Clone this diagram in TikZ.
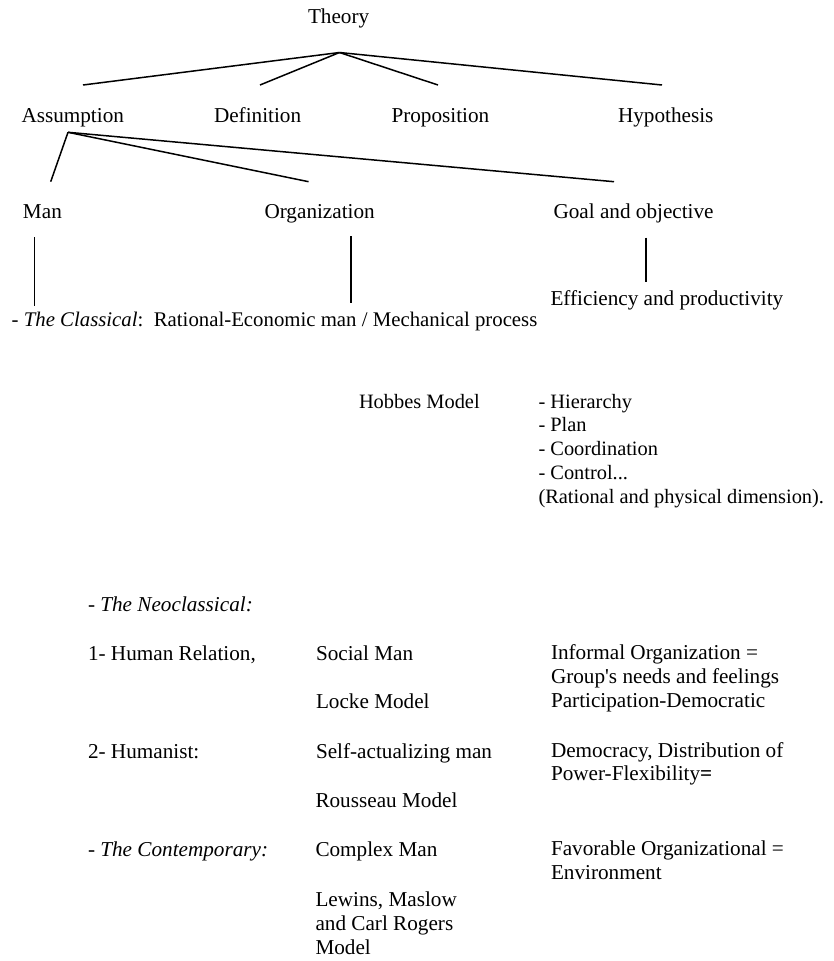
\documentclass[tikz,border=0pt]{standalone}
\usepackage{fontspec}
\setmainfont{Liberation Serif}
\begin{document}
\begin{tikzpicture}[x=1pt,y=-1pt,
  lbl/.style={anchor=base west,inner sep=0pt,outer sep=0pt,font=\fontsize{21.2}{23.8}\selectfont,align=left},
  lblsm/.style={lbl,font=\fontsize{20.4}{23.8}\selectfont},
  conn/.style={line width=1.5pt}]
\useasboundingbox (0,0) rectangle (833,961);
% level 0
\node[lbl] (theory) at (308,23.5) {Theory};
% level 1
\node[lbl] (assump) at (21.5,122.7) {Assumption};
\node[lbl] (defin) at (214,122.7) {Definition};
\node[lbl] (propos) at (391.5,122.7) {Proposition};
\node[lbl] (hypo) at (618,122.7) {Hypothesis};
% level 2
\node[lbl] (man) at (23,218.3) {Man};
\node[lbl] (org) at (264.5,218.3) {Organization};
\node[lbl] (goal) at (553.5,218.8) {Goal and objective};
% level 3
\node[lbl] (eff) at (550.5,305) {Efficiency and productivity};
\node[lbl,font=\fontsize{20.8}{23.8}\selectfont] (classical) at (11.7,326.7) {- \textit{The Classical}:\ \ Rational-Economic man / Mechanical process};
% Hobbes
\node[lblsm] (hobbes) at (359,408) {Hobbes Model};
% multi-line nodes are placed at the baseline of their last line
\node[lblsm] (hier) at (538.5,503.2) {- Hierarchy\\- Plan\\- Coordination\\- Control...\\(Rational and physical dimension).};
% Neoclassical
\node[lbl] (neo) at (88,611.7) {- \textit{The Neoclassical:}};
\node[lbl] (hr) at (88,660) {1- Human Relation,};
\node[lbl] (social) at (316,660) {Social Man};
\node[lbl] (informal) at (551,707.1) {Informal Organization =\\Group\textquotesingle s needs and feelings\\Participation-Democratic};
\node[lbl] (locke) at (316,708.3) {Locke Model};
\node[lbl] (human) at (88,758.3) {2- Humanist:};
\node[lbl] (self) at (316,758.3) {Self-actualizing man};
\node[lbl] (democ) at (551,780.8) {Democracy, Distribution of\\Power-Flexibility\textbf{=}};
\node[lbl] (rous) at (315.5,807.3) {Rousseau Model};
\node[lbl] (contemp) at (88,856.7) {- \textit{The Contemporary:}};
\node[lbl] (complex) at (315.5,856.7) {Complex Man};
\node[lbl] (favor) at (551,879.3) {Favorable Organizational =\\Environment};
\node[lbl] (lewins) at (315.5,954.3) {Lewins, Maslow\\and Carl Rogers\\Model};
% connector points
\coordinate (tj) at (339.5,52.5);
\coordinate (a1) at (83,85);
\coordinate (d1) at (260,85);
\coordinate (p1) at (438,85);
\coordinate (h1) at (662,85);
\coordinate (aj) at (68,132.3);
\coordinate (m1) at (50.7,181.7);
\coordinate (o1) at (308.6,181.7);
\coordinate (g1) at (614,181.7);
\coordinate (mv1) at (34.7,237.3);
\coordinate (mv2) at (34.7,306);
\coordinate (ov1) at (350.8,236);
\coordinate (ov2) at (350.8,303.3);
\coordinate (gv1) at (646,237.7);
\coordinate (gv2) at (646,281.7);
% connectors
\draw[conn] (tj) -- (a1);
\draw[conn] (tj) -- (d1);
\draw[conn] (tj) -- (p1);
\draw[conn] (tj) -- (h1);
\draw[conn] (aj) -- (m1);
\draw[conn] (aj) -- (o1);
\draw[conn] (aj) -- (g1);
\draw[conn] (mv1) -- (mv2);
\draw[conn] (ov1) -- (ov2);
\draw[conn] (gv1) -- (gv2);
\end{tikzpicture}
\end{document}
